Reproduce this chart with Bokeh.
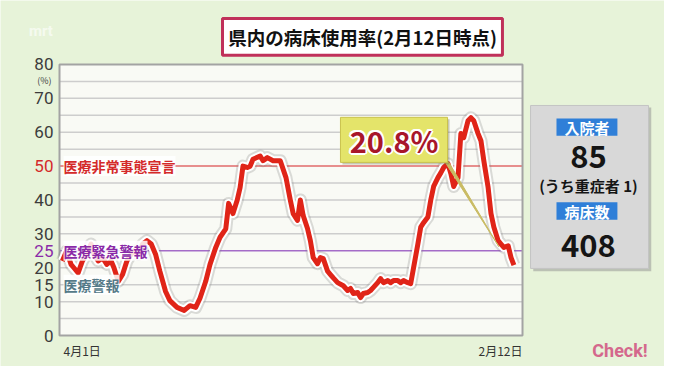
from bokeh.plotting import figure
from bokeh.models import Range1d, Label, BoxAnnotation
from bokeh.core.properties import value
from bokeh.embed import file_html
from bokeh.resources import INLINE

# ---------------- data (days since 4月1日, bed occupancy %) ----------------
days = [2, 5, 8, 10, 13, 16, 19, 22, 24, 27, 30, 33, 36, 38, 41, 44, 47, 50, 52, 55,
        58, 61, 64, 67, 70, 74, 77, 82, 87, 91, 95, 98, 102, 105, 109, 112, 116, 118, 121, 124,
        126, 128, 131, 133, 135, 140, 142, 145, 149, 154, 158, 161, 163, 166, 168, 170, 173, 175, 177, 180,
        182, 184, 187, 189, 191, 194, 198, 201, 203, 205, 208, 210, 212, 215, 217, 219, 222, 224, 226, 229,
        231, 233, 236, 238, 240, 243, 245, 247, 250, 252, 254, 257, 259, 261, 264, 266, 268, 271, 273, 275,
        278, 280, 282, 285, 287, 289, 292, 294, 296, 299, 301, 303, 306, 308, 310, 313, 315, 317]
rates = [22, 25, 21, 20, 18.5, 22, 24, 27, 24, 22, 23, 21, 22, 20, 16, 18, 22, 24, 25, 24,
         27, 28, 27, 24, 19, 13, 10.3, 8.3, 7.4, 8.8, 8.3, 11, 16, 21, 26, 29, 31.5, 39, 36, 40,
         43.7, 50, 49.6, 50, 52, 53, 51.6, 52.5, 51.6, 51.6, 46.6, 40, 36, 34, 40, 35.4, 31.6, 28, 23, 21.2,
         23, 22.7, 19, 18, 17, 15.6, 14.7, 13.3, 13.9, 12.4, 12.7, 11.2, 12.4, 12.7, 13.3, 14.2, 15.6, 16.8, 15.6, 16.2,
         15.6, 16.2, 16.2, 15.6, 16.2, 15.6, 15.3, 20, 27, 32, 33.3, 35, 40, 44, 46.6, 48, 49.6, 50.7, 47.8, 44,
         46.6, 59.6, 58.4, 63.4, 64.3, 63.4, 59.6, 57.5, 51.6, 43.7, 36, 32, 28, 27, 26, 26.5, 23, 20.8]

x_start, x_end = 0, 323          # chart's day span (4月1日 .. just after 2月12日)
y_min, y_max = 0, 80
y_ticks = [0, 10, 15, 20, 25, 30, 40, 50, 60, 70, 80]
y_tick_colors = ["#3c3c3c"] * 4 + ["#8a2aa8"] + ["#3c3c3c"] * 2 + ["#d42a2a"] + ["#3c3c3c"] * 3
grid_levels = [5, 10, 15, 20, 30, 35, 40, 45, 55, 60, 65, 70, 75]
threshold_levels = [50, 25, 15]
threshold_names = ["医療非常事態宣言", "医療緊急警報", "医療警報"]
threshold_colors = ["#d42a2a", "#8a2aa8", "#557a88"]
title_text = "県内の病床使用率(2月12日時点)"
x_labels = ["4月1日", "2月12日"]
current_rate = "20.8%"
inpatients = "85"
severe = "(うち重症者 1)"
beds = "408"

JP = "Noto Sans CJK JP"

# whole canvas is the frame; chart area occupies days 0..323, 0..80 %
p = figure(width=664, height=366, output_backend="svg", toolbar_location=None,
           x_range=Range1d(-41.16, 422.05), y_range=Range1d(-9.15, 98.89),
           min_border=0, min_border_left=0, min_border_right=0, min_border_top=0, min_border_bottom=0,
           background_fill_color="#e7f3d9", border_fill_color="#e7f3d9", outline_line_color=None)
p.axis.visible = False
p.grid.visible = False

# plot area
p.quad(left=[x_start], right=[x_end], bottom=[y_min], top=[y_max], fill_color="#f9faf5", line_color=None)
p.segment(x0=[x_start] * len(grid_levels), x1=[x_end] * len(grid_levels), y0=grid_levels, y1=grid_levels,
          line_color="#cdcdcd", line_width=1.5)
p.segment(x0=[x_start], x1=[x_end], y0=[50], y1=[50], line_color="#e06a6a", line_width=1.5)
p.segment(x0=[x_start], x1=[x_end], y0=[25], y1=[25], line_color="#a46cc8", line_width=1.5)
p.quad(left=[x_start], right=[x_end], bottom=[y_min], top=[y_max], fill_color=None,
       line_color="#a3a3a3", line_width=2)

# y tick labels
p.text(x=[-4.2] * len(y_ticks), y=y_ticks, text=[str(t) for t in y_ticks], text_align="right",
       text_baseline="middle", text_font=value("Roboto"), text_font_size="17px", text_color=y_tick_colors)
p.text(x=[-10.5], y=[75.3], text=["(%)"], text_align="center", text_baseline="middle",
       text_font=value(JP), text_font_size="9px", text_color="#3c3c3c")

# main series
p.line(days, rates, line_color="#7a7a7a", line_alpha=0.25, line_width=13, line_join="round")
p.line(days, rates, line_color="white", line_width=9, line_join="round")
p.line(days, rates, line_color="#e02418", line_width=5, line_join="round")

# threshold labels
for lvl, name, col in zip(threshold_levels, threshold_names, threshold_colors):
    p.add_layout(Label(x=2.8, y=lvl, text=name, text_align="left", text_baseline="middle",
                       text_font=JP, text_font_style="bold", text_font_size="14px", text_color=col,
                       background_fill_color="white", background_fill_alpha=0.85))

# x labels
p.text(x=[2.8], y=[-4.3], text=[x_labels[0]], text_align="left", text_baseline="middle",
       text_font=value(JP), text_font_size="12px", text_color="#333333")
p.text(x=[x_end], y=[-4.3], text=[x_labels[1]], text_align="right", text_baseline="middle",
       text_font=value(JP), text_font_size="12px", text_color="#333333")

# callout
p.patch([267.5, 271.5, 306.5], [52.2, 51.2, 26.2], color="#c9bb63")
p.add_layout(BoxAnnotation(left=197.4, right=272.1, bottom=50.5, top=63.8, fill_color="#6a6a40",
                           fill_alpha=0.35, line_color=None))
p.add_layout(BoxAnnotation(left=196, right=270.7, bottom=51.1, top=64.4, fill_color="#e4e46a",
                           fill_alpha=1, line_color="#c9c24e", line_alpha=1, line_width=1))
for dx, dy in [(-2, 0), (2, 0), (0, -2), (0, 2), (-1.5, -1.5), (1.5, 1.5), (-1.5, 1.5), (1.5, -1.5)]:
    p.add_layout(Label(x=233.4, y=57.8, x_offset=dx, y_offset=dy, text=current_rate, text_align="center",
                       text_baseline="middle", text_font=JP, text_font_style="bold",
                       text_font_size="29px", text_color="white"))
p.add_layout(Label(x=233.4, y=57.8, text=current_rate, text_align="center", text_baseline="middle",
                   text_font=JP, text_font_style="bold", text_font_size="29px", text_color="#a8162a"))

# title
p.add_layout(BoxAnnotation(left=113.7, right=309, bottom=82.7, top=93.6, fill_color="white",
                           fill_alpha=1, line_color="#c0305a", line_alpha=1, line_width=3))
p.add_layout(Label(x=211.4, y=88.1, text=title_text, text_align="center", text_baseline="middle",
                   text_font=JP, text_font_style="bold", text_font_size="18.5px", text_color="#111111"))

# info panel
p.add_layout(BoxAnnotation(left=330.5, right=412.8, bottom=19.0, top=67.3, fill_color="#8f8f8f",
                           fill_alpha=0.5, line_color=None))
p.add_layout(BoxAnnotation(left=328.6, right=410.9, bottom=19.8, top=67.9, fill_color="#d8d8d8",
                           fill_alpha=1, line_color="#c4c4c4", line_alpha=1, line_width=1))
for (b, t, txt) in [(59.0, 64.06, "入院者"), (34.2, 39.3, "病床数")]:
    p.add_layout(BoxAnnotation(left=346.7, right=389.2, bottom=b, top=t, fill_color="#2f7fd8",
                               fill_alpha=1, line_color=None))
    p.add_layout(Label(x=368, y=(b + t) / 2, text=txt, text_align="center", text_baseline="middle",
                       text_font=JP, text_font_style="bold", text_font_size="15px", text_color="white"))
p.add_layout(Label(x=369, y=52.8, text=inpatients, text_align="center", text_baseline="middle",
                   text_font=JP, text_font_style="bold", text_font_size="31px", text_color="#151515"))
p.add_layout(Label(x=369, y=44.3, text=severe, text_align="center", text_baseline="middle",
                   text_font=JP, text_font_style="bold", text_font_size="15px", text_color="#151515"))
p.add_layout(Label(x=369, y=26.6, text=beds, text_align="center", text_baseline="middle",
                   text_font=JP, text_font_style="bold", text_font_size="31px", text_color="#151515"))

# branding
p.add_layout(Label(x=391, y=-4.4, text="Check!", text_align="center", text_baseline="middle",
                   text_font="Roboto", text_font_style="bold", text_font_size="18px", text_color="#d4688c"))
p.add_layout(Label(x=-13, y=90, text="mrt", text_align="center", text_baseline="middle",
                   text_font="Roboto", text_font_style="bold", text_font_size="15px", text_color="white",
                   text_alpha=0.6))

open("out.html", "w").write(file_html(p, INLINE))
